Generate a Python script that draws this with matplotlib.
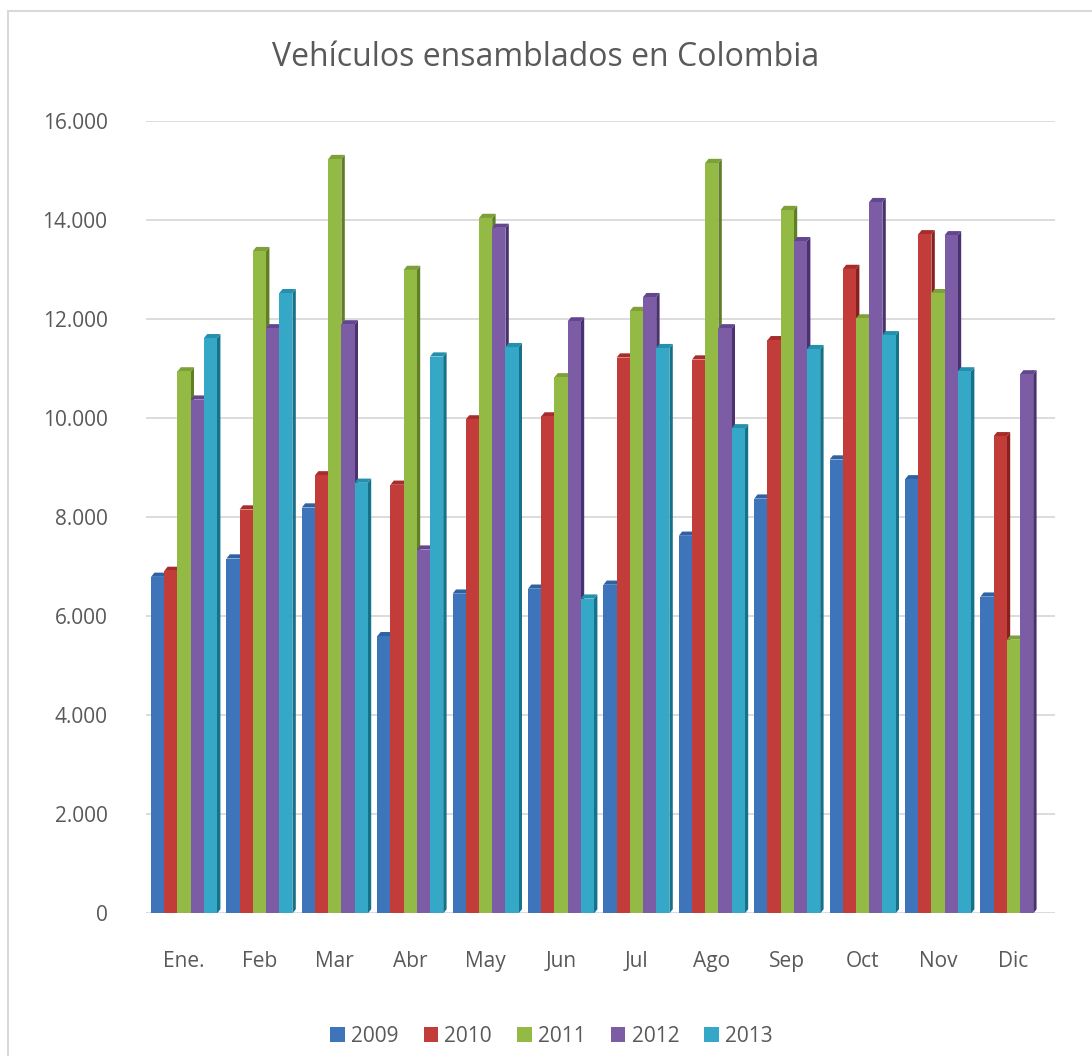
import numpy as np
import matplotlib.pyplot as plt
from matplotlib.patches import Polygon, Patch, Rectangle
from matplotlib.ticker import FuncFormatter

plt.rcParams['font.family'] = ['Open Sans', 'DejaVu Sans']

months = ['Ene.', 'Feb', 'Mar', 'Abr', 'May', 'Jun', 'Jul', 'Ago', 'Sep', 'Oct', 'Nov', 'Dic']
years = ['2009', '2010', '2011', '2012', '2013']

v2009 = [6800, 7170, 8200, 5600, 6460, 6560, 6640, 7630, 8380, 9170, 8770, 6400]
v2010 = [6920, 8160, 8850, 8660, 9980, 10040, 11230, 11190, 11580, 13020, 13720, 9640]
v2011 = [10950, 13380, 15240, 13000, 14050, 10830, 12170, 15160, 14210, 12020, 12530, 5530]
v2012 = [10380, 11820, 11900, 7350, 13850, 11960, 12450, 11820, 13580, 14370, 13700, 10890]
v2013 = [11620, 12530, 8700, 11250, 11440, 6360, 11420, 9800, 11400, 11680, 10950, 0]

front = ['#3e75ba', '#c23d3a', '#94ba46', '#7c5ca5', '#34a8c6']
side = ['#264f80', '#8a1f1d', '#5f7f25', '#4a3270', '#16718a']
top = ['#2e62a3', '#a82d2a', '#7ea039', '#634690', '#2490ad']

series = [v2009, v2010, v2011, v2012, v2013]
text_col = '#595959'

fig = plt.figure(figsize=(10.92, 10.56), dpi=100)
ax = fig.add_axes([0.134, 0.135, 0.832, 0.75])

x = np.arange(len(months))
w = 0.175
dx = 0.045
dy = 85

# fake 3D: side face + top face per bar, next bar covers the previous side
for j, vals in enumerate(series):
    for i, v in enumerate(vals):
        if v <= 0:
            continue
        x0 = x[i] + (j - 2.5) * w
        z = 3 + j * 3
        ax.add_patch(Polygon([(x0 + w, 0), (x0 + w + dx, dy), (x0 + w + dx, v + dy), (x0 + w, v)],
                             closed=True, facecolor=side[j], edgecolor='none', zorder=z))
        ax.add_patch(Polygon([(x0, v), (x0 + dx, v + dy), (x0 + w + dx, v + dy), (x0 + w, v)],
                             closed=True, facecolor=top[j], edgecolor='none', zorder=z))
    ax.bar(x + (j - 2.5) * w, vals, width=w, align='edge', color=front[j],
           edgecolor='none', zorder=4 + j * 3)

ax.set_xlim(-0.5, 11.55)
ax.set_ylim(0, 16000)
ax.set_yticks(np.arange(0, 16001, 2000))
ax.yaxis.set_major_formatter(FuncFormatter(lambda v, p: f'{v:,.0f}'.replace(',', '.')))
ax.set_xticks(x)
ax.set_xticklabels(months)
ax.grid(axis='y', color='#d9d9d9', linewidth=1.3, zorder=0)
ax.set_axisbelow(True)
for s in ax.spines.values():
    s.set_visible(False)
ax.tick_params(axis='both', length=0, labelsize=15, colors=text_col)
ax.tick_params(axis='x', pad=27)
ax.tick_params(axis='y', pad=28)

fig.text(0.5, 0.946, 'Vehículos ensamblados en Colombia', ha='center', va='center',
         fontsize=23, color=text_col)

handles = [Patch(facecolor=front[j], edgecolor='none', label=years[j]) for j in range(5)]
fig.legend(handles=handles, loc='lower center', bbox_to_anchor=(0.505, -0.009), ncol=5,
           frameon=False, fontsize=15, handlelength=0.7, handleheight=0.7,
           handletextpad=0.3, columnspacing=1.2, labelcolor=text_col)

fig.patches.append(Rectangle((0.007, -0.01), 1.0, 1.0, transform=fig.transFigure,
                             facecolor='none', edgecolor='#d9d9d9', linewidth=1.5))

fig.savefig('out.png', dpi=100)
